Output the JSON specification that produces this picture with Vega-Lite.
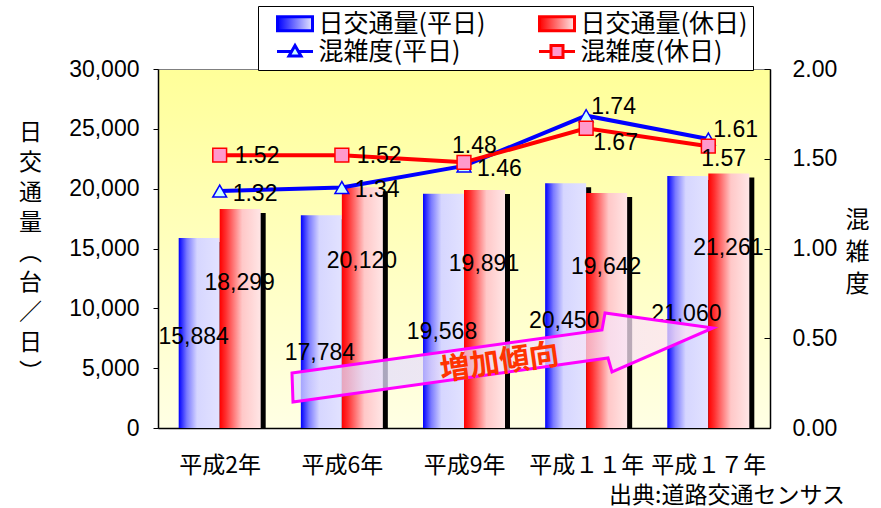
{
  "$schema": "https://vega.github.io/schema/vega-lite/v6.json",
  "width": 612,
  "height": 359,
  "autosize": {"type": "none"},
  "padding": {"left": 158, "top": 69, "right": 111, "bottom": 80},
  "background": "white",
  "config": {
    "font": "Liberation Sans",
    "view": {
      "fill": {"gradient": "linear", "x1": 0, "y1": 0, "x2": 0, "y2": 1, "stops": [{"offset": 0, "color": "#ffff99"}, {"offset": 1, "color": "#ffffe4"}]},
      "stroke": "#808080",
      "strokeWidth": 1
    }
  },
  "title": {
    "text": "出典:道路交通センサス",
    "orient": "bottom",
    "anchor": "end",
    "frame": "group",
    "dx": 75,
    "offset": 8,
    "font": "Noto Sans CJK JP",
    "fontSize": 23,
    "fontWeight": "normal",
    "color": "black"
  },
  "data": {
    "values": [
      {"年": "平成2年", "系列": "日交通量(平日)", "値": 15884},
      {"年": "平成6年", "系列": "日交通量(平日)", "値": 17784},
      {"年": "平成9年", "系列": "日交通量(平日)", "値": 19568},
      {"年": "平成１１年", "系列": "日交通量(平日)", "値": 20450},
      {"年": "平成１７年", "系列": "日交通量(平日)", "値": 21060},
      {"年": "平成2年", "系列": "日交通量(休日)", "値": 18299},
      {"年": "平成6年", "系列": "日交通量(休日)", "値": 20120},
      {"年": "平成9年", "系列": "日交通量(休日)", "値": 19891},
      {"年": "平成１１年", "系列": "日交通量(休日)", "値": 19642},
      {"年": "平成１７年", "系列": "日交通量(休日)", "値": 21261},
      {"年": "平成2年", "系列": "混雑度(平日)", "値": 1.32},
      {"年": "平成6年", "系列": "混雑度(平日)", "値": 1.34},
      {"年": "平成9年", "系列": "混雑度(平日)", "値": 1.46},
      {"年": "平成１１年", "系列": "混雑度(平日)", "値": 1.74},
      {"年": "平成１７年", "系列": "混雑度(平日)", "値": 1.61},
      {"年": "平成2年", "系列": "混雑度(休日)", "値": 1.52},
      {"年": "平成6年", "系列": "混雑度(休日)", "値": 1.52},
      {"年": "平成9年", "系列": "混雑度(休日)", "値": 1.48},
      {"年": "平成１１年", "系列": "混雑度(休日)", "値": 1.67},
      {"年": "平成１７年", "系列": "混雑度(休日)", "値": 1.57}
    ]
  },
  "encoding": {
    "x": {
      "field": "年",
      "type": "nominal",
      "sort": null,
      "title": null,
      "scale": {"type": "band", "domain": ["平成2年", "平成6年", "平成9年", "平成１１年", "平成１７年"], "paddingInner": 0.33, "paddingOuter": 0.17},
      "axis": {
        "orient": "bottom",
        "labelAngle": 0,
        "labelFont": "Noto Sans CJK JP",
        "labelFontSize": 23,
        "labelColor": "black",
        "labelPadding": 34,
        "tickBand": "extent",
        "tickSize": -8,
        "tickColor": "#333333",
        "domainColor": "black",
        "domainWidth": 1.5,
        "grid": false
      }
    }
  },
  "resolve": {"scale": {"y": "independent"}},
  "layer": [
    {
      "encoding": {
        "y": {
          "field": "値",
          "type": "quantitative",
          "scale": {"domain": [0, 30000], "nice": false},
          "axis": {
            "orient": "left",
            "values": [0, 5000, 10000, 15000, 20000, 25000, 30000],
            "format": ",.0f",
            "grid": false,
            "labelFont": "Liberation Sans",
            "labelFontSize": 23,
            "labelColor": "black",
            "labelPadding": 14,
            "labelOverlap": false,
            "labelBound": false,
            "tickSize": 5,
            "tickColor": "black",
            "domainColor": "black",
            "domainWidth": 1.5,
            "title": ["日", "交", "通", "量", "︵", "台", "／", "日", "︶"],
            "titleAngle": 0,
            "titleX": -128,
            "titleY": 52,
            "titleAlign": "center",
            "titleBaseline": "top",
            "titleFont": "Noto Sans CJK JP",
            "titleFontSize": 23,
            "titleFontWeight": "normal",
            "titleLineHeight": 30,
            "titleColor": "black"
          }
        }
      },
      "layer": [
        {
          "transform": [{"filter": {"field": "系列", "equal": "日交通量(平日)"}}],
          "mark": {"type": "bar", "width": 41, "xOffset": -15.5, "yOffset": 4, "fill": "black", "clip": true}
        },
        {
          "transform": [{"filter": {"field": "系列", "equal": "日交通量(休日)"}}],
          "mark": {"type": "bar", "width": 41, "xOffset": 25.5, "yOffset": 4, "fill": "black", "clip": true}
        },
        {
          "transform": [{"filter": {"field": "系列", "equal": "日交通量(平日)"}}],
          "mark": {
            "type": "bar", "width": 41, "xOffset": -20.5,
            "fill": {"gradient": "linear", "x1": 0, "y1": 0, "x2": 1, "y2": 0, "stops": [{"offset": 0, "color": "#0000ff"}, {"offset": 0.2, "color": "#7a7aff"}, {"offset": 0.45, "color": "#d6d6ff"}, {"offset": 1, "color": "#e2e2ff"}]}
          }
        },
        {
          "transform": [{"filter": {"field": "系列", "equal": "日交通量(休日)"}}],
          "mark": {
            "type": "bar", "width": 41, "xOffset": 20.5,
            "fill": {"gradient": "linear", "x1": 0, "y1": 0, "x2": 1, "y2": 0, "stops": [{"offset": 0, "color": "#ff0000"}, {"offset": 0.15, "color": "#ff3030"}, {"offset": 0.55, "color": "#ffc8c8"}, {"offset": 1, "color": "#ffe6e6"}]}
          }
        },
        {
          "transform": [{"filter": {"and": [{"field": "系列", "equal": "日交通量(平日)"}, {"field": "年", "equal": "平成2年"}]}}],
          "mark": {"type": "text", "dx": -26, "dy": 99, "baseline": "middle", "align": "center", "fontSize": 23, "font": "Liberation Sans", "color": "black"},
          "encoding": {"text": {"field": "値", "type": "quantitative", "format": ",.0f"}}
        },
        {
          "transform": [{"filter": {"and": [{"field": "系列", "equal": "日交通量(平日)"}, {"field": "年", "oneOf": ["平成6年", "平成9年", "平成１１年", "平成１７年"]}]}}],
          "mark": {"type": "text", "dx": -22, "dy": 138, "baseline": "middle", "align": "center", "fontSize": 23, "font": "Liberation Sans", "color": "black"},
          "encoding": {"text": {"field": "値", "type": "quantitative", "format": ",.0f"}}
        },
        {
          "transform": [{"filter": {"field": "系列", "equal": "日交通量(休日)"}}],
          "mark": {"type": "text", "dx": 20, "dy": 74, "baseline": "middle", "align": "center", "fontSize": 23, "font": "Liberation Sans", "color": "black"},
          "encoding": {"text": {"field": "値", "type": "quantitative", "format": ",.0f"}}
        },
        {
          "transform": [{"filter": {"and": [{"field": "系列", "equal": "日交通量(平日)"}, {"field": "年", "equal": "平成9年"}]}}],
          "mark": {
            "type": "point",
            "shape": "M-1.72,0.15L1.38,-0.28L1.41,-0.45L2.49,-0.30L1.48,0.14L1.44,0L-1.71,0.44Z",
            "size": 40000,
            "filled": true,
            "fill": {"gradient": "linear", "x1": 0, "y1": 0, "x2": 1, "y2": 0, "stops": [{"offset": 0, "color": "#dcdcff"}, {"offset": 1, "color": "#ffe4f2"}]},
            "fillOpacity": 0.75,
            "stroke": "#ff00ff",
            "strokeWidth": 3,
            "opacity": 1
          },
          "encoding": {"y": {"datum": 5850}}
        },
        {
          "transform": [{"filter": {"and": [{"field": "系列", "equal": "日交通量(平日)"}, {"field": "年", "equal": "平成9年"}]}}],
          "mark": {"type": "text", "angle": -8, "dx": 36, "baseline": "middle", "align": "center", "font": "Noto Sans CJK JP", "fontSize": 30, "fontWeight": "bold", "color": "#ff3300"},
          "encoding": {"y": {"datum": 5000}, "text": {"value": "増加傾向"}}
        }
      ]
    },
    {
      "encoding": {
        "y": {
          "field": "値",
          "type": "quantitative",
          "scale": {"domain": [0, 2], "nice": false},
          "axis": {
            "orient": "right",
            "values": [0, 0.5, 1, 1.5, 2],
            "format": ".2f",
            "grid": false,
            "labelFont": "Liberation Sans",
            "labelFontSize": 23,
            "labelColor": "black",
            "labelPadding": 28,
            "labelOverlap": false,
            "labelBound": false,
            "tickSize": -6,
            "tickColor": "black",
            "domainColor": "black",
            "domainWidth": 1.5,
            "title": ["混", "雑", "度"],
            "titleAngle": 0,
            "titleX": 87,
            "titleY": 139,
            "titleAlign": "center",
            "titleBaseline": "top",
            "titleFont": "Noto Sans CJK JP",
            "titleFontSize": 24,
            "titleFontWeight": "normal",
            "titleLineHeight": 32,
            "titleColor": "black"
          }
        }
      },
      "layer": [
        {
          "transform": [{"filter": {"field": "系列", "oneOf": ["混雑度(平日)", "混雑度(休日)"]}}],
          "mark": {"type": "line", "strokeWidth": 4},
          "encoding": {
            "color": {
              "field": "系列",
              "type": "nominal",
              "scale": {"domain": ["日交通量(平日)", "日交通量(休日)", "混雑度(平日)", "混雑度(休日)"], "range": ["#0000ff", "#ff0000", "#0000ff", "#ff0000"]},
              "legend": {
                "orient": "none",
                "legendX": 100,
                "legendY": -63,
                "columns": 2,
                "direction": "horizontal",
                "title": null,
                "labelFont": "Noto Sans CJK JP",
                "labelFontSize": 25,
                "labelColor": "black",
                "labelLimit": 0,
                "symbolSize": 400,
                "symbolOffset": 19.5,
                "labelOffset": 11,
                "columnPadding": 39,
                "rowPadding": 2,
                "padding": 5,
                "strokeColor": "black",
                "fillColor": "white",
                "encode": {
                  "symbols": {
                    "update": {
                      "shape": {"signal": "datum.value === '混雑度(平日)' ? 'M-1.8,0H-0.35M0.35,0H1.8M0,-0.6L0.6,0.45H-0.6Z' : datum.value === '混雑度(休日)' ? 'M-1.8,0H-0.6M0.6,0H1.8M-0.6,-0.6H0.6V0.6H-0.6Z' : 'M-1.75,-0.7H1.75V0.7H-1.75Z'"},
                      "fill": {"signal": "datum.value === '日交通量(平日)' ? {gradient: 'linear', stops: [{offset: 0, color: '#0000ff'}, {offset: 1, color: '#e6e6ff'}]} : datum.value === '日交通量(休日)' ? {gradient: 'linear', stops: [{offset: 0, color: '#ff0000'}, {offset: 1, color: '#ffe6e6'}]} : datum.value === '混雑度(平日)' ? '#ccffff' : '#ff99cc'"},
                      "stroke": {"signal": "datum.value === '混雑度(平日)' ? '#0000ff' : datum.value === '混雑度(休日)' ? '#ff0000' : 'transparent'"},
                      "strokeWidth": {"value": 3},
                      "opacity": {"value": 1},
                      "fillOpacity": {"value": 1}
                    }
                  }
                }
              }
            }
          }
        },
        {
          "transform": [{"filter": {"field": "系列", "equal": "混雑度(平日)"}}],
          "mark": {"type": "point", "shape": "triangle-up", "size": 190, "filled": true, "fill": "#ccffff", "stroke": "#0000ff", "strokeWidth": 1.5, "opacity": 1}
        },
        {
          "transform": [{"filter": {"field": "系列", "equal": "混雑度(休日)"}}],
          "mark": {"type": "point", "shape": "square", "size": 190, "filled": true, "fill": "#ff99cc", "stroke": "#ff0000", "strokeWidth": 1.5, "opacity": 1}
        },
        {
          "transform": [{"filter": {"and": [{"field": "系列", "equal": "混雑度(平日)"}, {"field": "年", "oneOf": ["平成2年", "平成6年", "平成9年"]}]}}],
          "mark": {"type": "text", "align": "left", "baseline": "middle", "dx": 13, "dy": 3, "fontSize": 23, "color": "black"},
          "encoding": {"text": {"field": "値", "type": "quantitative", "format": ".2f"}}
        },
        {
          "transform": [{"filter": {"and": [{"field": "系列", "equal": "混雑度(平日)"}, {"field": "年", "oneOf": ["平成１１年", "平成１７年"]}]}}],
          "mark": {"type": "text", "align": "left", "baseline": "middle", "dx": 5, "dy": -9, "fontSize": 23, "color": "black"},
          "encoding": {"text": {"field": "値", "type": "quantitative", "format": ".2f"}}
        },
        {
          "transform": [{"filter": {"and": [{"field": "系列", "equal": "混雑度(休日)"}, {"field": "年", "oneOf": ["平成2年", "平成6年"]}]}}],
          "mark": {"type": "text", "align": "left", "baseline": "middle", "dx": 15, "dy": 1, "fontSize": 23, "color": "black"},
          "encoding": {"text": {"field": "値", "type": "quantitative", "format": ".2f"}}
        },
        {
          "transform": [{"filter": {"and": [{"field": "系列", "equal": "混雑度(休日)"}, {"field": "年", "equal": "平成9年"}]}}],
          "mark": {"type": "text", "align": "left", "baseline": "middle", "dx": -12, "dy": -16, "fontSize": 23, "color": "black"},
          "encoding": {"text": {"field": "値", "type": "quantitative", "format": ".2f"}}
        },
        {
          "transform": [{"filter": {"and": [{"field": "系列", "equal": "混雑度(休日)"}, {"field": "年", "equal": "平成１１年"}]}}],
          "mark": {"type": "text", "align": "left", "baseline": "middle", "dx": 7, "dy": 15, "fontSize": 23, "color": "black"},
          "encoding": {"text": {"field": "値", "type": "quantitative", "format": ".2f"}}
        },
        {
          "transform": [{"filter": {"and": [{"field": "系列", "equal": "混雑度(休日)"}, {"field": "年", "equal": "平成１７年"}]}}],
          "mark": {"type": "text", "align": "left", "baseline": "middle", "dx": -7, "dy": 13, "fontSize": 23, "color": "black"},
          "encoding": {"text": {"field": "値", "type": "quantitative", "format": ".2f"}}
        }
      ]
    }
  ]
}
